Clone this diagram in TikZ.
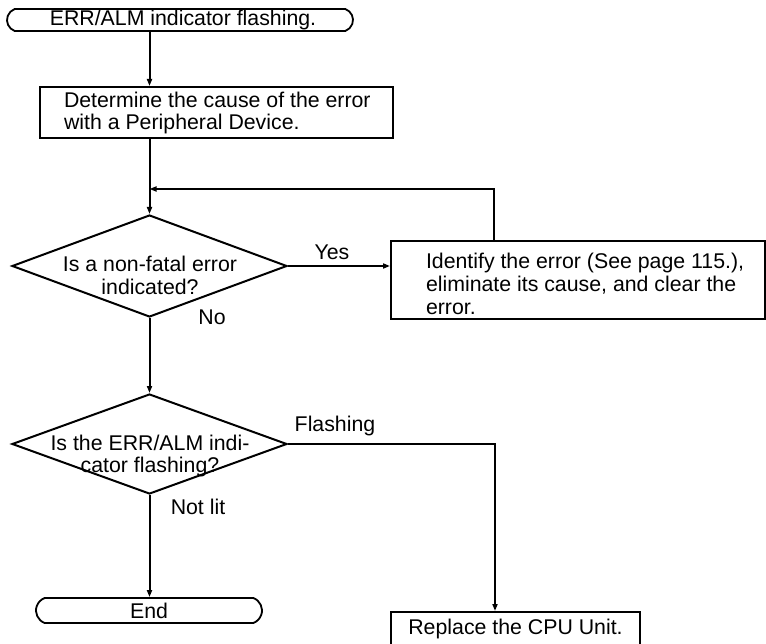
\documentclass[tikz,border=0pt]{standalone}
\usepackage{fontspec}
\setmainfont{Liberation Sans}
\usetikzlibrary{shapes.geometric,shapes.misc,arrows.meta}
\begin{document}
\begin{tikzpicture}[x=1pt,y=-1pt,
  line width=2pt,
  txt/.style={font=\fontsize{21.3}{22.8}\selectfont, inner sep=0pt},
  term/.style={draw, rounded rectangle, rounded rectangle arc length=140, inner sep=0pt, font=\fontsize{21.3}{22.8}\selectfont, line width=1.8pt},
  box/.style={draw, rectangle, inner sep=0pt, line width=2pt, font=\fontsize{21.3}{22.8}\selectfont},
  dia/.style={draw, diamond, inner sep=0pt, line width=2pt},
  arr/.style={-{Triangle[length=7pt,width=5pt]}, line width=2pt},
  ln/.style={line width=2pt}]
\useasboundingbox (0,0) rectangle (766,644);

\node[term, minimum width=346pt, minimum height=22pt] (start) at (180,20) {\hspace{6pt}ERR/ALM indicator flashing.};
\node[box, minimum width=353pt, minimum height=51pt] (b1) at (216.5,112.5) {};
\node[txt, align=left, anchor=west] (b1t) at (63,113) {Determine the cause of the error\\with a Peripheral Device.};
\coordinate (jn) at (149.5,189);
\node[dia, minimum width=275pt, minimum height=102pt] (d1) at (149.5,266) {};
\node[txt, align=center] (d1t) at (150,275) {Is a non-fatal error\\indicated?};
\node[box, minimum width=374pt, minimum height=78pt] (b2) at (578,280) {};
\node[txt, align=left, anchor=west] (b2t) at (425,284) {Identify the error (See page 115.),\\eliminate its cause, and clear the\\error.};
\node[dia, minimum width=275pt, minimum height=100pt] (d2) at (149.5,444) {};
\node[txt, align=center] (d2t) at (150,456) {Is the ERR/ALM indi-\\cator flashing?};
\node[term, minimum width=226pt, minimum height=25pt] (end) at (149,610.5) {End};
\node[box, minimum width=249pt, minimum height=34pt] (b3) at (515.5,629) {Replace the CPU Unit.};

\node[txt] (yes) at (332,252) {Yes};
\node[txt] (no) at (212,317) {No};
\node[txt] (fl) at (335,426) {Flashing};
\node[txt] (nl) at (198,507) {Not lit};

\draw[arr] (start.south -| d1.north) -- (b1.north -| d1.north);
\draw[ln] (b1.south -| d1.north) -- (jn);
\draw[arr] (jn) -- (d1.north);
\draw[arr] ([xshift=104pt]b2.north west) |- (jn);
\draw[arr] (d1.east) -- (d1.east -| b2.west);
\draw[arr] (d1.south) -- (d2.north);
\draw[arr] (d2.south) -- (d2.south |- end.north);
\draw[arr] (d2.east) -| ([xshift=105pt]b3.north west);
\end{tikzpicture}
\end{document}
